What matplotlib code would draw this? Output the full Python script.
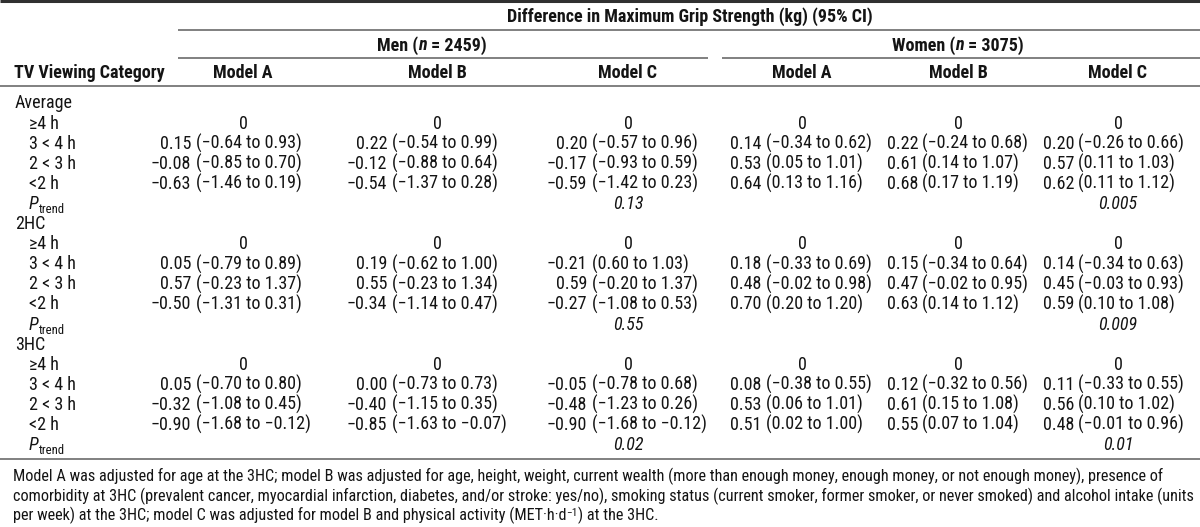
import matplotlib
matplotlib.use("Agg")
import matplotlib.pyplot as plt
from matplotlib import font_manager

# 数据
sections = ["Average", "2HC", "3HC"]
tv_rows = ["≥4 h", "3 < 4 h", "2 < 3 h", "<2 h"]
model_names = ["Model A", "Model B", "Model C"]

# 每组 3 行 (3 < 4 h, 2 < 3 h, <2 h)，按 Average, 2HC, 3HC 顺序
men_a = [0.15, -0.08, -0.63, 0.05, 0.57, -0.50, 0.05, -0.32, -0.90]
men_a_lo = [-0.64, -0.85, -1.46, -0.79, -0.23, -1.31, -0.70, -1.08, -1.68]
men_a_hi = [0.93, 0.70, 0.19, 0.89, 1.37, 0.31, 0.80, 0.45, -0.12]
men_b = [0.22, -0.12, -0.54, 0.19, 0.55, -0.34, 0.00, -0.40, -0.85]
men_b_lo = [-0.54, -0.88, -1.37, -0.62, -0.23, -1.14, -0.73, -1.15, -1.63]
men_b_hi = [0.99, 0.64, 0.28, 1.00, 1.34, 0.47, 0.73, 0.35, -0.07]
men_c = [0.20, -0.17, -0.59, -0.21, 0.59, -0.27, -0.05, -0.48, -0.90]
men_c_lo = [-0.57, -0.93, -1.42, 0.60, -0.20, -1.08, -0.78, -1.23, -1.68]
men_c_hi = [0.96, 0.59, 0.23, 1.03, 1.37, 0.53, 0.68, 0.26, -0.12]
women_a = [0.14, 0.53, 0.64, 0.18, 0.48, 0.70, 0.08, 0.53, 0.51]
women_a_lo = [-0.34, 0.05, 0.13, -0.33, -0.02, 0.20, -0.38, 0.06, 0.02]
women_a_hi = [0.62, 1.01, 1.16, 0.69, 0.98, 1.20, 0.55, 1.01, 1.00]
women_b = [0.22, 0.61, 0.68, 0.15, 0.47, 0.63, 0.12, 0.61, 0.55]
women_b_lo = [-0.24, 0.14, 0.17, -0.34, -0.02, 0.14, -0.32, 0.15, 0.07]
women_b_hi = [0.68, 1.07, 1.19, 0.64, 0.95, 1.12, 0.56, 1.08, 1.04]
women_c = [0.20, 0.57, 0.62, 0.14, 0.45, 0.59, 0.11, 0.56, 0.48]
women_c_lo = [-0.26, 0.11, 0.11, -0.34, -0.03, 0.10, -0.33, 0.10, -0.01]
women_c_hi = [0.66, 1.03, 1.12, 0.63, 0.93, 1.08, 0.55, 1.02, 0.96]

p_trend_men = ["0.13", "0.55", "0.02"]
p_trend_women = ["0.005", "0.009", "0.01"]

footnote = [
    "Model A was adjusted for age at the 3HC; model B was adjusted for age, height, weight, current wealth (more than enough money, enough money, or not enough money), presence of",
    "comorbidity at 3HC (prevalent cancer, myocardial infarction, diabetes, and/or stroke: yes/no), smoking status (current smoker, former smoker, or never smoked) and alcohol intake (units",
    "per week) at the 3HC; model C was adjusted for model B and physical activity (MET·h·d",
]

# 字体：优先用窄体
fonts = font_manager.fontManager.ttflist
names = sorted({f.name for f in fonts})
STRETCH = "normal"
FAM = None
for pref in ["Liberation Sans Narrow", "Roboto Condensed", "Noto Sans Condensed",
             "Open Sans Condensed", "DejaVu Sans Condensed", "Arial Narrow"]:
    if pref in names:
        FAM = [pref, "DejaVu Sans"]
        break
if FAM is None:
    for fam in ["Noto Sans", "Roboto", "Open Sans", "DejaVu Sans"]:
        if any(f.name == fam and f.stretch in ("condensed", "semi-condensed", "extra-condensed")
               for f in fonts):
            FAM = [fam, "DejaVu Sans"]
            STRETCH = "condensed"
            break
if FAM is None:
    FAM = ["Liberation Sans", "DejaVu Sans"]

TXT = "#141414"
LINE = "#808080"

W, H = 1200, 527
fig = plt.figure(figsize=(W / 100, H / 100), dpi=100)
ax = fig.add_axes([0, 0, 1, 1])
ax.set_xlim(0, W)
ax.set_ylim(H, 0)
ax.axis("off")
renderer = fig.canvas.get_renderer()


def width_of(s, size, weight="normal"):
    t = ax.text(0, 0, s, fontsize=size, fontweight=weight, family=FAM, fontstretch=STRETCH)
    w = t.get_window_extent(renderer).width
    t.remove()
    return w


# 按参考图宽度自适应字号
FS = min(15, max(9, 10 * 140 / width_of("0.15 (\u22120.64 to 0.93)", 10)))
FN = min(14, max(7, min(10 * 1180 / width_of(s, 10) for s in footnote[:2])))


def fmt(v):
    return f"{v:.2f}".replace("-", "\u2212")


def runs(x, y, parts, ha="left", size=None):
    # parts: (text, weight, style, dy, scale)；y 为文字中线
    size = size or FS
    base = y + 0.36 * size * 100 / 72
    objs = []
    for s, wt, st, dy, sc in parts:
        t = ax.text(0, base + dy, s, fontsize=size * sc, fontweight=wt, fontstyle=st,
                    family=FAM, fontstretch=STRETCH, color=TXT, va="baseline", ha="left")
        objs.append(t)
    widths = [o.get_window_extent(renderer).width for o in objs]
    total = sum(widths)
    x0 = x - total / 2 if ha == "center" else (x - total if ha == "right" else x)
    for o, w in zip(objs, widths):
        o.set_x(x0)
        x0 += w


def hline(y, x0, x1, lw=1.4, color=LINE):
    ax.plot([x0, x1], [y, y], color=color, lw=lw, solid_capstyle="butt")


N = "normal"
B = "bold"

# 表头
hline(1.2, 0, W, lw=2.2, color="#303030")
runs(690, 15, [("Difference in Maximum Grip Strength (kg) (95% CI)", B, N, 0, 1)], ha="center")
hline(30, 178, W)
runs(432, 44, [("Men (", B, N, 0, 1), ("n", B, "italic", 0, 1), (" = 2459)", B, N, 0, 1)],
     ha="center")
runs(958, 44, [("Women (", B, N, 0, 1), ("n", B, "italic", 0, 1), (" = 3075)", B, N, 0, 1)],
     ha="center")
hline(58, 178, 708)
hline(58, 722, W)
runs(14, 72, [("TV Viewing Category", B, N, 0, 1)])

col_center = [243, 437, 628, 802, 958, 1118]
block_start = [160, 356, 556, 730, 887, 1043]
for i, c in enumerate(col_center):
    runs(c, 72, [(model_names[i % 3], B, N, 0, 1)], ha="center")
hline(86, 0, W)

columns = [
    (men_a, men_a_lo, men_a_hi), (men_b, men_b_lo, men_b_hi), (men_c, men_c_lo, men_c_hi),
    (women_a, women_a_lo, women_a_hi), (women_b, women_b_lo, women_b_hi),
    (women_c, women_c_lo, women_c_hi),
]
est_w = width_of("0.15", FS)
sp_w = width_of("0.15 (", FS) - width_of("0.15(", FS)

y0 = 102
dy = 20.1
r = 0
for s, sec in enumerate(sections):
    runs(15, y0 + r * dy, [(sec, N, N, 0, 1)])
    r += 1
    for k, lab in enumerate(tv_rows):
        yc = y0 + r * dy
        runs(29, yc, [(lab, N, N, 0, 1)])
        for j, (est, lo, hi) in enumerate(columns):
            if k == 0:
                runs(col_center[j], yc, [("0", N, N, 0, 1)], ha="center")
            else:
                i = s * 3 + k - 1
                xr = block_start[j] + est_w
                runs(xr, yc, [(fmt(est[i]), N, N, 0, 1)], ha="right")
                runs(xr + sp_w, yc, [(f"({fmt(lo[i])} to {fmt(hi[i])})", N, N, 0, 1)])
        r += 1
    yc = y0 + r * dy
    runs(29, yc, [("P", N, "italic", 0, 1), ("trend", N, N, 4, 0.7)])
    runs(col_center[2], yc, [(p_trend_men[s], N, "italic", 0, 1)], ha="center")
    runs(col_center[5], yc, [(p_trend_women[s], N, "italic", 0, 1)], ha="center")
    r += 1

hline(459, 0, W)

# 脚注
fn_gap = max(13.5, 1.22 * FN * 100 / 72)
for n, line in enumerate(footnote):
    yc = 475 + n * fn_gap
    if n == 2:
        runs(13, yc, [(line, N, N, 0, 1), ("\u22121", N, N, -5, 0.7),
                      (") at the 3HC.", N, N, 0, 1)], size=FN)
    else:
        runs(13, yc, [(line, N, N, 0, 1)], size=FN)

fig.savefig("out.png", dpi=100)
